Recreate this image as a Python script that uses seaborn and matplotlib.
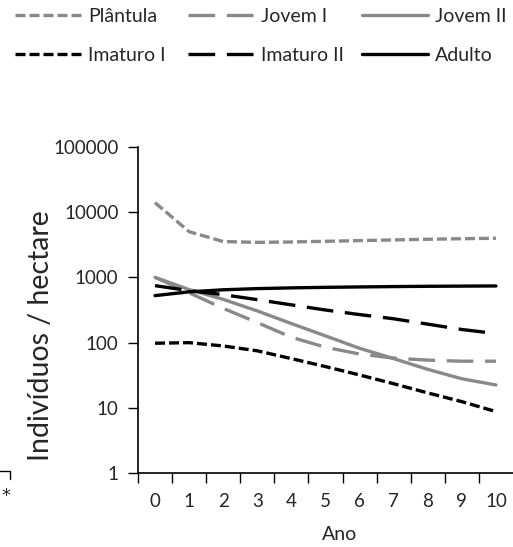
import pandas as pd
import seaborn as sns
import matplotlib.pyplot as plt
from matplotlib.lines import Line2D
from matplotlib.ticker import NullLocator

# valores (indivíduos / hectare por ano)
anos = list(range(11))
plantula = [13900, 5000, 3530, 3430, 3480, 3560, 3650, 3740, 3830, 3900, 3970]
jovem_i = [1000, 580, 335, 203, 121, 85, 67, 58, 54, 52, 52]
jovem_ii = [1000, 650, 460, 306, 196, 127, 82, 57, 39, 28, 22.5]
imaturo_i = [98, 100, 89, 75, 57, 43, 32, 23.5, 17, 12.5, 8.8]
imaturo_ii = [746, 626, 543, 455, 379, 316, 269, 232, 192, 159, 138]
adulto = [525, 600, 645, 672, 690, 703, 713, 722, 729, 734, 738]

estagios = ['Plântula', 'Jovem I', 'Jovem II', 'Imaturo I', 'Imaturo II', 'Adulto']
series = [plantula, jovem_i, jovem_ii, imaturo_i, imaturo_ii, adulto]
y_ticks = [1, 10, 100, 1000, 10000, 100000]
y_labels = ['1', '10', '100', '1000', '10000', '100000']

cinza = '#898989'
cores = {'Plântula': cinza, 'Jovem I': cinza, 'Jovem II': cinza,
         'Imaturo I': 'black', 'Imaturo II': 'black', 'Adulto': 'black'}
tracos = {'Plântula': (3, 1.2), 'Jovem I': (8, 3.5), 'Jovem II': '',
          'Imaturo I': (3, 1.2), 'Imaturo II': (8, 3.5), 'Adulto': ''}
lw = 2.4

df = pd.DataFrame({
    'Ano': anos * len(estagios),
    'Valor': [v for s in series for v in s],
    'Estágio': [e for e in estagios for _ in anos],
})

sns.set_style('ticks')
plt.rcParams['font.family'] = ['Lato', 'DejaVu Sans']

fig = plt.figure(figsize=(5.13, 5.47), dpi=100)
ax = fig.add_axes([138 / 513, 1 - 473.3 / 547, 375 / 513, 326.6 / 547])

sns.lineplot(data=df, x='Ano', y='Valor', hue='Estágio', style='Estágio',
             hue_order=estagios, style_order=estagios, palette=cores,
             dashes=tracos, linewidth=lw, errorbar=None, legend=False, ax=ax)

ax.set_yscale('log')
ax.set_ylim(1, 100000)
ax.set_yticks(y_ticks, labels=y_labels)
ax.yaxis.set_minor_locator(NullLocator())
ax.set_xlim(-0.5, 10.5)
ax.set_xticks([a - 0.5 for a in anos], labels=[''] * len(anos))
ax.set_xticks(anos, labels=[str(a) for a in anos], minor=True)
ax.tick_params(axis='x', which='major', length=7, width=1, direction='out', color='black')
ax.tick_params(axis='x', which='minor', length=0, pad=14, labelsize=13.5)
ax.tick_params(axis='y', which='major', length=7, width=1, direction='out',
               color='black', pad=7, labelsize=13.5)
sns.despine(ax=ax)
for s in ['left', 'bottom']:
    ax.spines[s].set_color('black')
    ax.spines[s].set_linewidth(1.2)

ax.set_xlabel('Ano', fontsize=14)
ax.xaxis.set_label_coords((340 - 138) / 375, -(526 - 473.3) / 326.6)
ax.set_ylabel('Indivíduos / hectare', fontsize=20.5)
ax.yaxis.set_label_coords((54 - 138) / 375, 1 - (336 - 146.7) / 326.6)


def proxy(e):
    if tracos[e]:
        return Line2D([], [], color=cores[e], lw=lw, dashes=tracos[e])
    return Line2D([], [], color=cores[e], lw=lw, linestyle='-')


colunas = [(['Plântula', 'Imaturo I'], 15), (['Jovem I', 'Imaturo II'], 188),
           (['Jovem II', 'Adulto'], 362)]
for nomes, x0 in colunas:
    fig.legend([proxy(n) for n in nomes], nomes, loc='upper left',
               bbox_to_anchor=(x0 / 513, 1 - 8 / 547), bbox_transform=fig.transFigure,
               frameon=False, fontsize=14, handlelength=3.4, handletextpad=0.36,
               labelspacing=1.12, borderpad=0, borderaxespad=0)

# resto do gráfico vizinho no canto
fig.add_artist(Line2D([0, 10 / 513, 10 / 513], [1 - 471 / 547, 1 - 471 / 547, 1 - 479 / 547],
                      transform=fig.transFigure, color='black', lw=1))
fig.text(6 / 513, 1 - 496 / 547, '*', fontsize=13, ha='center', va='center',
         family='DejaVu Sans')

fig.savefig('out.png', dpi=100)
